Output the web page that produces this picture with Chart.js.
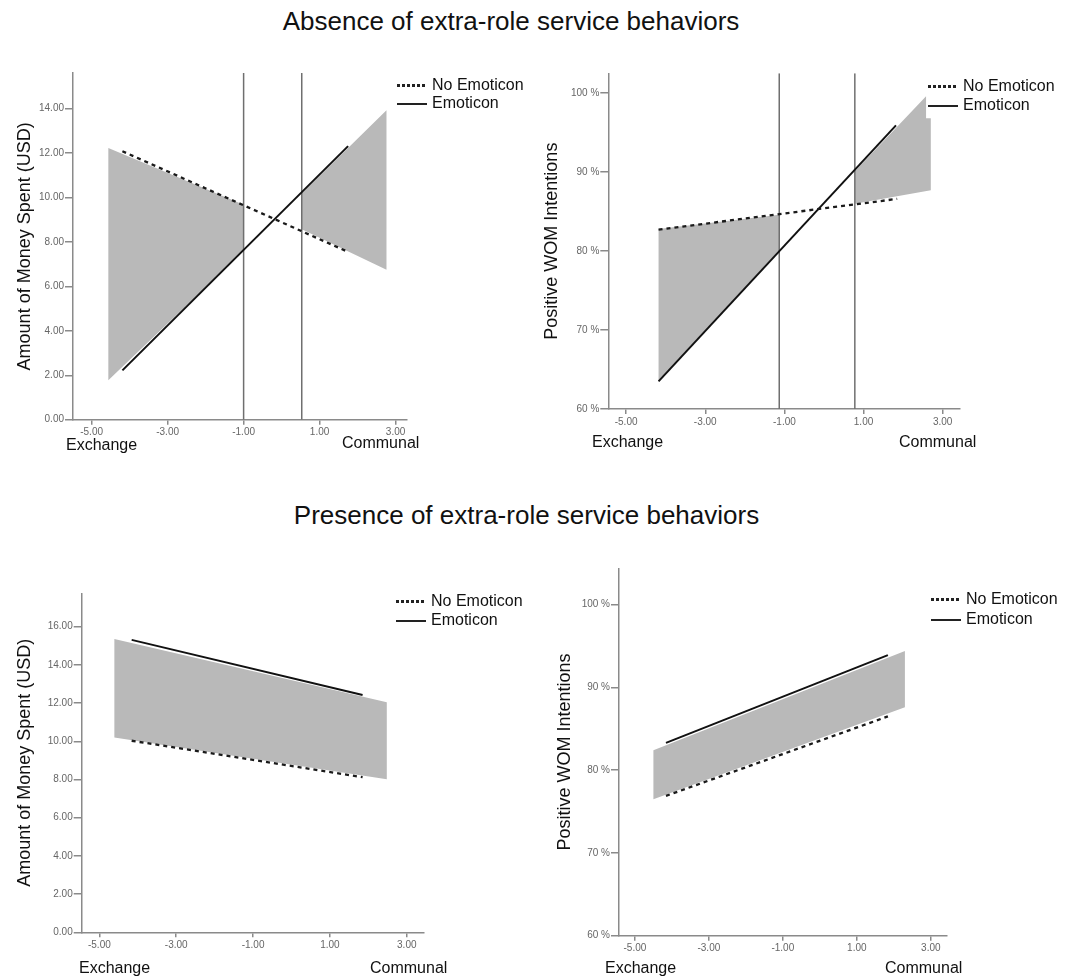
<!DOCTYPE html>
<html>
<head>
<meta charset="utf-8">
<script src="https://cdn.jsdelivr.net/npm/chart.js@4.4.1/dist/chart.umd.min.js"></script>
<style>
  body { margin: 0; background: #fff; width: 1073px; height: 977px; position: relative; overflow: hidden;
         font-family: Arial, "Liberation Sans", sans-serif; color: #111; }
  .title { position: absolute; left: 0; text-align: center; font-size: 26px; line-height: 30px; white-space: nowrap; }
  .lbl { position: absolute; font-size: 16px; line-height: 18px; white-space: nowrap; }
  .leg { position: absolute; font-size: 16px; line-height: 18px; white-space: nowrap; }
  .leg .dots { display: inline-block; width: 30px; height: 3px; vertical-align: middle; margin-right: 5px;
               background: repeating-linear-gradient(90deg, #222 0 3px, transparent 3px 5px); }
  .leg .solid { display: inline-block; width: 30px; height: 1.5px; vertical-align: middle; margin-right: 5px; background: #222; }
  canvas { position: absolute; }
</style>
</head>
<body>

<div class="title" style="top:6px;width:1022px">Absence of extra-role service behaviors</div>
<div class="title" style="top:500px;width:1053px">Presence of extra-role service behaviors</div>

<canvas id="c1" width="530" height="388" style="left:0;top:60px"></canvas>
<canvas id="c2" width="530" height="384" style="left:540px;top:60px"></canvas>
<canvas id="c3" width="530" height="387" style="left:0;top:580px"></canvas>
<canvas id="c4" width="530" height="416" style="left:540px;top:555px"></canvas>

<div class="lbl" style="left:66px;top:436px">Exchange</div>
<div class="lbl" style="left:342px;top:434px">Communal</div>
<div class="lbl" style="left:592px;top:433px">Exchange</div>
<div class="lbl" style="left:899px;top:433px">Communal</div>
<div class="lbl" style="left:79px;top:959px">Exchange</div>
<div class="lbl" style="left:370px;top:959px">Communal</div>
<div class="lbl" style="left:605px;top:959px">Exchange</div>
<div class="lbl" style="left:885px;top:959px">Communal</div>

<div class="leg" style="left:397px;top:76px"><span class="dots"></span>No Emoticon</div>
<div class="leg" style="left:397px;top:94px"><span class="solid"></span>Emoticon</div>
<div class="leg" style="left:928px;top:77px"><span class="dots"></span>No Emoticon</div>
<div class="leg" style="left:928px;top:96px"><span class="solid"></span>Emoticon</div>
<div class="leg" style="left:396px;top:592px"><span class="dots"></span>No Emoticon</div>
<div class="leg" style="left:396px;top:611px"><span class="solid"></span>Emoticon</div>
<div class="leg" style="left:931px;top:590px"><span class="dots"></span>No Emoticon</div>
<div class="leg" style="left:931px;top:610px"><span class="solid"></span>Emoticon</div>

<script>
// ── shared tick labels ──
const xTicks      = [-5, -3, -1, 1, 3];
const moneyTicks  = [0, 2, 4, 6, 8, 10, 12, 14];
const money2Ticks = [0, 2, 4, 6, 8, 10, 12, 14, 16];
const womTicks    = [60, 70, 80, 90, 100];

// ── Absence: money spent ──
const absMoneyNoEmo   = [[-4.19, 12.08], [1.75, 7.55]];
const absMoneyEmo     = [[-4.19, 2.22], [1.75, 12.31]];
const absMoneyJN      = [-1.00, 0.53];
const absMoneyShadeL  = [[-4.56, 12.23], [-1.00, 9.67], [-1.00, 7.60], [-4.56, 1.77]];
const absMoneyShadeR  = [[0.53, 10.18], [2.76, 13.92], [2.76, 6.75], [0.53, 8.57]];

// ── Absence: WOM intentions ──
const absWomNoEmo   = [[-4.18, 82.7], [1.85, 86.6]];
const absWomEmo     = [[-4.18, 63.5], [1.82, 95.9]];
const absWomJN      = [-1.13, 0.78];
const absWomShadeL  = [[-4.18, 82.8], [-1.13, 84.6], [-1.13, 80.1], [-4.18, 63.5]];
const absWomShadeR  = [[0.78, 90.1], [2.58, 99.6], [2.58, 96.8], [2.70, 96.8], [2.70, 87.7], [0.78, 86.0]];

// ── Presence: money spent ──
const preMoneyNoEmo  = [[-4.16, 10.03], [1.85, 8.12]];
const preMoneyEmo    = [[-4.16, 15.31], [1.85, 12.43]];
const preMoneyShade  = [[-4.61, 15.36], [2.48, 12.04], [2.48, 8.01], [-4.61, 10.20]];

// ── Presence: WOM intentions ──
const preWomNoEmo  = [[-4.16, 76.9], [1.84, 86.5]];
const preWomEmo    = [[-4.16, 83.3], [1.84, 93.9]];
const preWomShade  = [[-4.50, 82.4], [2.30, 94.4], [2.30, 87.6], [-4.50, 76.5]];

Chart.defaults.font.family = 'Arial, "Liberation Sans", sans-serif';

const AXIS = '#8a8a8a';
const SHADE = '#b9b9b9';
const pts = arr => arr.map(([x, y]) => ({ x, y }));

function panel(id, p) {
  const sets = [
    { data: pts(p.noEmo), borderColor: '#1a1a1a', borderWidth: 2.3, borderDash: [4, 4] },
    { data: pts(p.emo),   borderColor: '#111',    borderWidth: 2 }
  ];
  (p.jn || []).forEach(x => sets.push({
    data: [{ x, y: p.yMin }, { x, y: p.yMax }], borderColor: '#6f6f6f', borderWidth: 1.5
  }));
  p.shades.forEach(s => sets.push({
    data: pts(s.concat([s[0]])), borderWidth: 0, borderColor: SHADE, backgroundColor: SHADE, fill: 'shape'
  }));
  sets.forEach(d => { d.pointRadius = 0; d.tension = 0; });

  return new Chart(document.getElementById(id), {
    type: 'line',
    data: { datasets: sets },
    options: {
      responsive: false, animation: false, events: [],
      layout: { padding: { left: 0, top: p.top, right: p.right, bottom: p.bottom } },
      plugins: { legend: { display: false }, tooltip: { enabled: false } },
      scales: {
        x: {
          type: 'linear', min: p.xMin, max: p.xMax,
          afterBuildTicks: s => { s.ticks = xTicks.map(v => ({ value: v })); },
          afterFit: s => { s.height = 20; },
          grid: { drawOnChartArea: false, drawTicks: true, tickLength: 5, color: AXIS, lineWidth: 1.5 },
          border: { color: AXIS, width: 1.5 },
          ticks: { autoSkip: false, maxRotation: 0, padding: 2, color: '#666', font: { size: 10 },
                   callback: v => v.toFixed(2) }
        },
        y: {
          min: p.yMin, max: p.yMax,
          afterBuildTicks: s => { s.ticks = p.yTicks.map(v => ({ value: v })); },
          afterFit: s => { s.width = p.yWidth; },
          grid: { drawOnChartArea: false, drawTicks: true, tickLength: 8, color: AXIS, lineWidth: 1.5 },
          border: { color: AXIS, width: 1.5 },
          ticks: { autoSkip: false, padding: 1, color: '#666', font: { size: 10 }, callback: p.fmt },
          title: { display: true, text: p.title, color: '#111', font: { size: 18 },
                   padding: { top: p.titlePad, bottom: 0 } }
        }
      }
    }
  });
}

const fmtMoney = v => v.toFixed(2);
const fmtPct   = v => v + ' %';

panel('c1', {
  noEmo: absMoneyNoEmo, emo: absMoneyEmo, jn: absMoneyJN, shades: [absMoneyShadeL, absMoneyShadeR],
  xMin: -5.49, xMax: 3.30, yMin: 0, yMax: 15.6, yTicks: moneyTicks, fmt: fmtMoney,
  title: 'Amount of Money Spent (USD)', titlePad: 14,
  yWidth: 73, top: 13, right: 123, bottom: 8.3
});

panel('c2', {
  noEmo: absWomNoEmo, emo: absWomEmo, jn: absWomJN, shades: [absWomShadeL, absWomShadeR],
  xMin: -5.45, xMax: 3.42, yMin: 60, yMax: 102.5, yTicks: womTicks, fmt: fmtPct,
  title: 'Positive WOM Intentions', titlePad: 1.2,
  yWidth: 68.3, top: 13.3, right: 110.7, bottom: 15
});

panel('c3', {
  noEmo: preMoneyNoEmo, emo: preMoneyEmo, shades: [preMoneyShade],
  xMin: -5.46, xMax: 3.43, yMin: 0, yMax: 17.75, yTicks: money2Ticks, fmt: fmtMoney,
  title: 'Amount of Money Spent (USD)', titlePad: 14.2,
  yWidth: 81.7, top: 13.3, right: 106.7, bottom: 14.7
});

panel('c4', {
  noEmo: preWomNoEmo, emo: preWomEmo, shades: [preWomShade],
  xMin: -5.43, xMax: 3.43, yMin: 60, yMax: 104.4, yTicks: womTicks, fmt: fmtPct,
  title: 'Positive WOM Intentions', titlePad: 14.2,
  yWidth: 79, top: 13.3, right: 123.3, bottom: 15.3
});
</script>
</body>
</html>
